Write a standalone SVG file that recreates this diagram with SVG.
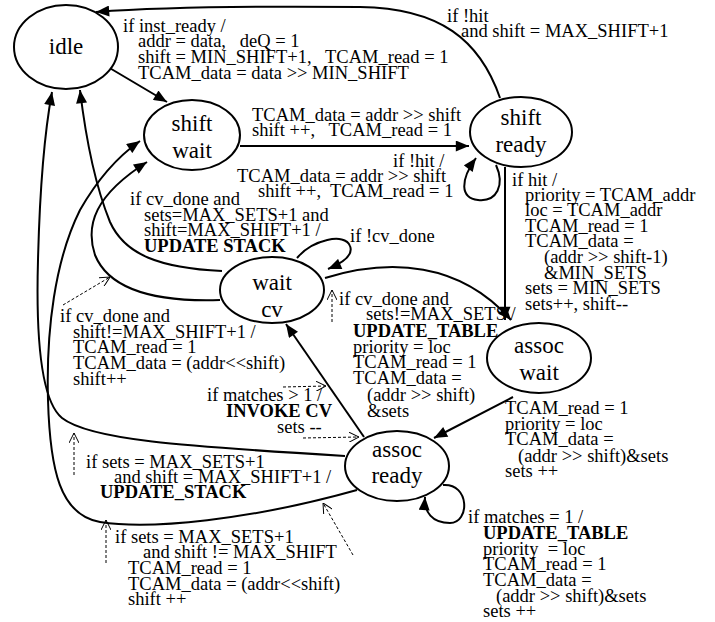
<svg xmlns="http://www.w3.org/2000/svg" width="715" height="622" viewBox="0 0 715 622">
<defs>
<style>
text { font-family: "Liberation Serif", "Times New Roman", serif; fill: #000; white-space: pre; }
.node ellipse { fill: #fff; stroke: #000; stroke-width: 2; }
.node text { font-size: 23px; text-anchor: middle; }
.lbl { font-size: 18.5px; }
.b { font-weight: bold; }
.edge { fill: none; stroke: #000; stroke-width: 2; marker-end: url(#arr); }
.note { fill: none; stroke: #000; stroke-width: 1; stroke-dasharray: 3 2; marker-end: url(#open); }
</style>
<marker id="arr" viewBox="0 0 12 10" refX="12" refY="5" markerWidth="14" markerHeight="11" markerUnits="userSpaceOnUse" orient="auto">
<path d="M0,0 L12,5 L0,10 z" fill="#000"/>
</marker>
<marker id="open" viewBox="0 0 10 10" refX="10" refY="5" markerWidth="10" markerHeight="10" markerUnits="userSpaceOnUse" orient="auto">
<path d="M0,0 L10,5 L0,10" fill="none" stroke="#000" stroke-width="1"/>
</marker>
</defs>
<rect width="715" height="622" fill="#fff"/>

<g id="connectors">
<path class="edge" d="M108,67 L167,102"/>
<path class="edge" d="M240,146 L469,146"/>
<path class="edge" d="M496,165 C505,185 497,202 478,200 C460,198 460,180 476,158"/>
<path class="edge" d="M500,98 C480,40 440,8 360,7 C250,6 150,8 96,12"/>
<path class="edge" d="M505,167 L505,320"/>
<path class="edge" d="M325,278 C390,258 460,262 511,320"/>
<path class="edge" d="M297,258 C312,240 345,232 350,246 C354,256 340,264 328,269"/>
<path class="edge" d="M222,271 C160,268 125,255 110,222 C95,185 86,140 80,90"/>
<path class="edge" d="M220,300 C160,302 110,292 95,255 C85,225 95,195 147,162"/>
<path class="edge" d="M364,437 L286,324"/>
<path class="edge" d="M513,397 L434,438"/>
<path class="edge" d="M443,485 C470,483 470,523 450,523 C432,523 424,512 425,497"/>
<path class="edge" d="M345,456 C180,446 90,440 62,418 C40,400 36,330 38,260 C40,180 45,130 52,92"/>
<path class="edge" d="M357,490 C250,520 150,530 100,522 C60,515 50,470 48,400 C46,330 55,260 80,210 C100,175 120,155 140,141"/>
<path class="note" d="M63,305 L110,277"/>
<path class="note" d="M332,322 L332,290"/>
<path class="note" d="M283,387 L326,386"/>
<path class="note" d="M303,438 L359,437"/>
<path class="note" d="M74,475 L74,433"/>
<path class="note" d="M106,563 L106,520"/>
<path class="note" d="M353,555 L323,503"/>
</g>

<g id="idle" class="node"><ellipse cx="66" cy="47" rx="52" ry="42"/><text x="66" y="54">idle</text></g>
<g id="shift_wait" class="node"><ellipse cx="192" cy="135" rx="48" ry="35"/><text x="192" y="131">shift</text><text x="192" y="158">wait</text></g>
<g id="shift_ready" class="node"><ellipse cx="521" cy="132" rx="51" ry="35"/><text x="521" y="125">shift</text><text x="521" y="152">ready</text></g>
<g id="wait_cv" class="node"><ellipse cx="272" cy="290" rx="52" ry="33"/><text x="272" y="290">wait</text><text x="272" y="317">cv</text></g>
<g id="assoc_wait" class="node"><ellipse cx="539" cy="358" rx="52" ry="35"/><text x="539" y="353">assoc</text><text x="539" y="380">wait</text></g>
<g id="assoc_ready" class="node"><ellipse cx="397" cy="466" rx="52" ry="35"/><text x="397" y="457">assoc</text><text x="397" y="483">ready</text></g>

<g id="labels" class="lbl">
<text class="lbl"><tspan x="123" y="32">if inst_ready /</tspan><tspan x="138" y="47">addr = data,   deQ = 1</tspan><tspan x="138" y="63">shift = MIN_SHIFT+1,   TCAM_read = 1</tspan><tspan x="138" y="79">TCAM_data = data &gt;&gt; MIN_SHIFT</tspan></text>
<text class="lbl"><tspan x="447" y="22">if !hit</tspan><tspan x="461" y="37">and shift = MAX_SHIFT+1</tspan></text>
<text class="lbl"><tspan x="252" y="121">TCAM_data = addr &gt;&gt; shift</tspan><tspan x="252" y="136">shift ++,   TCAM_read = 1</tspan></text>
<text class="lbl"><tspan x="393" y="167">if !hit /</tspan><tspan x="237" y="182">TCAM_data = addr &gt;&gt; shift</tspan><tspan x="258" y="197">shift ++,  TCAM_read = 1</tspan></text>
<text class="lbl"><tspan x="512" y="186">if hit /</tspan><tspan x="525" y="201">priority = TCAM_addr</tspan><tspan x="525" y="216">loc = TCAM_addr</tspan><tspan x="525" y="232">TCAM_read = 1</tspan><tspan x="525" y="247">TCAM_data =</tspan><tspan x="544" y="263">(addr &gt;&gt; shift-1)</tspan><tspan x="544" y="279">&amp;MIN_SETS</tspan><tspan x="525" y="294">sets = MIN_SETS</tspan><tspan x="525" y="310">sets++, shift--</tspan></text>
<text class="lbl"><tspan x="130" y="205">if cv_done and</tspan><tspan x="144" y="221">sets=MAX_SETS+1 and</tspan><tspan x="144" y="236">shift=MAX_SHIFT+1 /</tspan><tspan x="144" y="252" class="b">UPDATE STACK</tspan></text>
<text class="lbl" x="350" y="242">if !cv_done</text>
<text class="lbl"><tspan x="60" y="322">if cv_done and</tspan><tspan x="73" y="338">shift!=MAX_SHIFT+1 /</tspan><tspan x="73" y="353">TCAM_read = 1</tspan><tspan x="73" y="369">TCAM_data = (addr&lt;&lt;shift)</tspan><tspan x="73" y="385">shift++</tspan></text>
<text class="lbl"><tspan x="339" y="305">if cv_done and</tspan><tspan x="366" y="320">sets!=MAX_SETS /</tspan><tspan x="353" y="337" class="b">UPDATE_TABLE</tspan><tspan x="353" y="353">priority = loc</tspan><tspan x="353" y="368">TCAM_read = 1</tspan><tspan x="353" y="384">TCAM_data =</tspan><tspan x="367" y="401">(addr &gt;&gt; shift)</tspan><tspan x="367" y="417">&amp;sets</tspan></text>
<text class="lbl"><tspan x="207" y="401">if matches &gt; 1 /</tspan><tspan x="226" y="417" class="b">INVOKE CV</tspan><tspan x="277" y="433">sets --</tspan></text>
<text class="lbl"><tspan x="505" y="414">TCAM_read = 1</tspan><tspan x="505" y="430">priority = loc</tspan><tspan x="505" y="445">TCAM_data =</tspan><tspan x="518" y="462">(addr &gt;&gt; shift)&amp;sets</tspan><tspan x="505" y="477">sets ++</tspan></text>
<text class="lbl"><tspan x="468" y="523">if matches = 1 /</tspan><tspan x="483" y="539" class="b">UPDATE_TABLE</tspan><tspan x="483" y="555">priority  = loc</tspan><tspan x="483" y="570">TCAM_read = 1</tspan><tspan x="483" y="586">TCAM_data =</tspan><tspan x="496" y="602">(addr &gt;&gt; shift)&amp;sets</tspan><tspan x="483" y="617">sets ++</tspan></text>
<text class="lbl"><tspan x="86" y="468">if sets = MAX_SETS+1</tspan><tspan x="114" y="483">and shift = MAX_SHIFT+1 /</tspan><tspan x="100" y="498" class="b">UPDATE_STACK</tspan></text>
<text class="lbl"><tspan x="115" y="543">if sets = MAX_SETS+1</tspan><tspan x="143" y="558">and shift != MAX_SHIFT</tspan><tspan x="128" y="574">TCAM_read = 1</tspan><tspan x="128" y="590">TCAM_data = (addr&lt;&lt;shift)</tspan><tspan x="128" y="605">shift ++</tspan></text>
</g>
</svg>
